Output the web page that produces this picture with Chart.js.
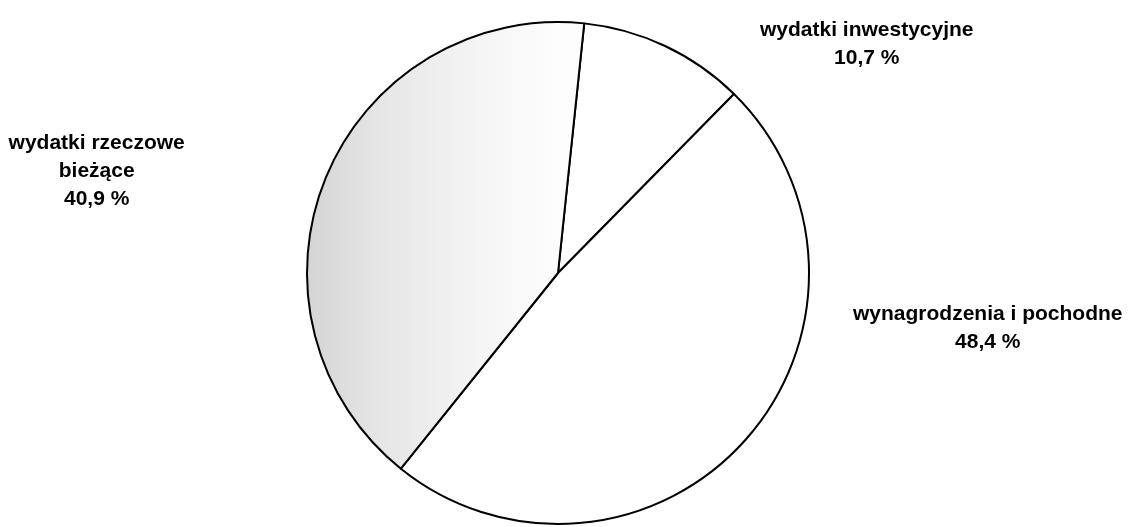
<!DOCTYPE html>
<html>
<head>
<meta charset="utf-8">
<script src="https://cdn.jsdelivr.net/npm/chart.js@4"></script>
<style>
	html, body { margin: 0; padding: 0; background: #fff; }
	#wrap { width: 1129px; height: 527px; }
</style>
</head>
<body>
<div id="wrap"><canvas id="myChart" width="1129" height="527"></canvas></div>
<script>
const categories = [['wydatki inwestycyjne'], ['wynagrodzenia i pochodne'], ['wydatki rzeczowe', 'bieżące']];
const shares = [10.7, 48.4, 40.9];

// label anchor (centre x, first baseline) relative to pie centre, in radius units
const labelOffsets = [[1.23, -0.944], [1.712, 0.187], [-1.838, -0.496]];

function sliceFill(context) {
	const chart = context.chart;
	const area = chart.chartArea;
	if (context.dataIndex != 2) return '#ffffff';
	if (!area) return '#e6e6e6';
	const cx = (area.left + area.right) / 2;
	const r = Math.min(area.right - area.left, area.bottom - area.top) / 2;
	const g = chart.ctx.createLinearGradient(cx - r, 0, cx, 0);
	g.addColorStop(0, '#d4d4d4');
	g.addColorStop(0.3, '#e6e6e6');
	g.addColorStop(0.7, '#f5f5f5');
	g.addColorStop(1, '#fdfdfd');
	return g;
}

const outsideLabels = {
	id: 'outsideLabels',
	afterDraw(chart) {
		const ctx = chart.ctx;
		const arcs = chart.getDatasetMeta(0).data;
		ctx.save();
		ctx.fillStyle = '#000';
		ctx.font = 'bold 21px "Liberation Sans", Arial, sans-serif';
		ctx.textAlign = 'center';
		ctx.textBaseline = 'alphabetic';
		arcs.forEach((arc, i) => {
			let lines = categories[i].concat([shares[i].toFixed(1).replace('.', ',') + ' %']);
			let cx = arc.x + labelOffsets[i][0] * arc.outerRadius;
			let y = arc.y + labelOffsets[i][1] * arc.outerRadius;
			lines.forEach((line, j) => {
				ctx.fillText(line, cx, y + j * 28);
			});
		});
		ctx.restore();
	},
};

new Chart(document.getElementById('myChart'), {
	type: 'pie',
	data: {
		labels: categories.map((c) => c.join(' ')),
		datasets: [
			{
				data: shares,
				backgroundColor: sliceFill,
				borderColor: '#000',
				borderWidth: 2,
			},
		],
	},
	options: {
		responsive: false,
		animation: false,
		rotation: 6,
		layout: {
			padding: { top: 21, bottom: 2, left: 0, right: 13 },
		},
		plugins: {
			legend: { display: false },
			tooltip: { enabled: false },
		},
	},
	plugins: [outsideLabels],
});
</script>
</body>
</html>
